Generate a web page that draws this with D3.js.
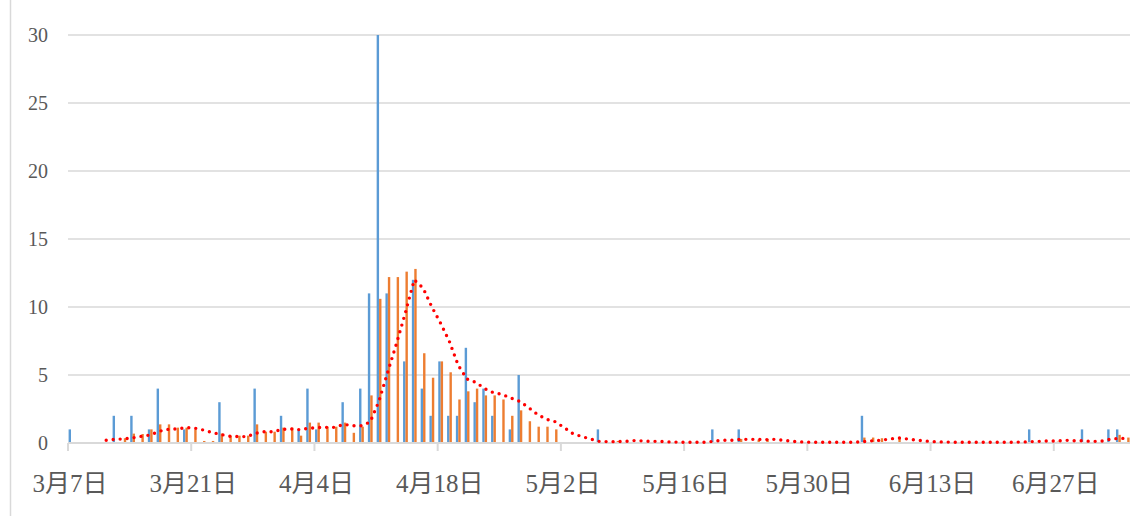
<!DOCTYPE html>
<html>
<head>
<meta charset="utf-8">
<script src="https://cdn.jsdelivr.net/npm/d3@7"></script>
<style>
  html, body { margin: 0; padding: 0; background: #ffffff; }
  svg { display: block; }
</style>
</head>
<body>
<svg id="chart" width="1141" height="516"></svg>
<script>
// Daily categories: 121 days starting 3月7日
const startDate = new Date(2022, 2, 7);
const dayCount = 121;
const categories = d3.range(dayCount).map(i => d3.timeDay.offset(startDate, i));

// Tick labels every 14 days
const tickLabels = ["3月7日", "3月21日", "4月4日", "4月18日", "5月2日", "5月16日", "5月30日", "6月13日", "6月27日"];
const tickDays = [0, 14, 28, 42, 56, 70, 84, 98, 112];
const yTicks = [0, 5, 10, 15, 20, 25, 30];

// Blue bars: daily count
const dailyCount = [
  1, 0, 0, 0, 0, 2, 0, 2, 0, 1,
  4, 0, 0, 1, 0, 0, 0, 3, 0, 0,
  0, 4, 0, 0, 2, 0, 1, 4, 1, 0,
  0, 3, 0, 4, 11, 30, 11, 0, 6, 12,
  4, 2, 6, 2, 2, 7, 3, 4, 2, 0,
  1, 5, 0, 0, 0, 0, 0, 0, 0, 0,
  1, 0, 0, 0, 0, 0, 0, 0, 0, 0,
  0, 0, 0, 1, 0, 0, 1, 0, 0, 0,
  0, 0, 0, 0, 0, 0, 0, 0, 0, 0,
  2, 0, 0, 0, 0, 0, 0, 0, 0, 0,
  0, 0, 0, 0, 0, 0, 0, 0, 0, 1,
  0, 0, 0, 0, 0, 1, 0, 0, 1, 1,
  0
];

// Orange bars: adjusted daily value
const adjustedCount = [
  0, 0, 0, 0, 0, 0, 0.35, 0.69, 0.66, 1.0,
  1.37, 1.37, 1.13, 1.13, 1.0, 0.15, 0.15, 0.7, 0.54, 0.54,
  0.54, 1.37, 0.83, 0.83, 1.13, 1.13, 0.54, 1.5, 1.5, 1.2,
  1.2, 1.5, 0.75, 1.2, 3.5, 10.6, 12.2, 12.2, 12.6, 12.8,
  6.6, 4.8, 6.0, 5.2, 3.2, 3.8, 4.0, 3.5, 3.5, 3.2,
  2.0, 2.4, 1.6, 1.2, 1.2, 1.0, 0, 0, 0, 0,
  0, 0, 0.15, 0, 0, 0, 0, 0, 0, 0,
  0, 0, 0, 0, 0, 0, 0.3, 0, 0.25, 0.3,
  0, 0, 0, 0, 0, 0, 0, 0, 0, 0,
  0.4, 0.4, 0.35, 0, 0.4, 0, 0, 0, 0, 0,
  0, 0, 0, 0, 0, 0, 0, 0, 0, 0,
  0, 0, 0.1, 0, 0, 0, 0, 0, 0, 0.6,
  0.4
];

// Red dotted line: smoothed trend (no value for the first four days)
const trend = [
  null, null, null, null, 0.2, 0.27, 0.3, 0.38, 0.49, 0.59,
  0.86, 1.0, 1.03, 1.13, 1.1, 0.96, 0.78, 0.63, 0.5, 0.47,
  0.47, 0.72, 0.83, 0.83, 1.0, 1.03, 0.98, 1.08, 1.13, 1.15,
  1.15, 1.37, 1.27, 1.27, 1.55, 3.1, 5.25, 7.35, 9.6, 12.0,
  11.4, 10.0, 8.8, 7.45, 5.7, 4.7, 4.46, 4.0, 3.7, 3.57,
  3.3, 3.05, 2.6, 2.1, 1.75, 1.57, 1.15, 0.7, 0.48, 0.3,
  0.12, 0.1, 0.1, 0.12, 0.18, 0.15, 0.12, 0.12, 0.08, 0.06,
  0.06, 0.06, 0.06, 0.12, 0.2, 0.2, 0.27, 0.27, 0.27, 0.25,
  0.27, 0.2, 0.12, 0.08, 0.06, 0.06, 0.06, 0.06, 0.06, 0.06,
  0.1, 0.16, 0.2, 0.29, 0.38, 0.3, 0.22, 0.15, 0.1, 0.08,
  0.06, 0.06, 0.06, 0.06, 0.06, 0.06, 0.06, 0.06, 0.07, 0.1,
  0.12, 0.15, 0.14, 0.2, 0.17, 0.16, 0.12, 0.12, 0.27, 0.34,
  0.34
];

const svg = d3.select("#chart");
const W = 1141, H = 516;

svg.append("rect").attr("width", W).attr("height", H).attr("fill", "#ffffff");

// Outer frame edge on the left
svg.append("line")
  .attr("x1", 10.5).attr("x2", 10.5).attr("y1", 0).attr("y2", H)
  .attr("stroke", "#d9d9d9").attr("stroke-width", 1.5);

const plotLeft = 68, plotRight = 1130;
const x = d3.scaleLinear().domain([0, dayCount]).range([plotLeft, 1133]);
const y = d3.scaleLinear().domain([0, 30]).range([443, 35]);

const labelFont = "'Liberation Serif', 'Noto Sans CJK SC', serif";

// Horizontal gridlines
svg.append("g").selectAll("line")
  .data(yTicks.filter(v => v > 0))
  .join("line")
  .attr("x1", plotLeft).attr("x2", plotRight)
  .attr("y1", d => y(d)).attr("y2", d => y(d))
  .attr("stroke", "#d9d9d9").attr("stroke-width", 1.6);

// Y axis labels
const yAxis = d3.axisLeft(y).tickValues(yTicks).tickSize(0).tickPadding(0).tickFormat(d3.format("d"));
const yg = svg.append("g").attr("transform", "translate(48,0)").call(yAxis);
yg.select(".domain").remove();
yg.selectAll("text")
  .attr("font-family", labelFont).attr("font-size", 20)
  .attr("fill", "#595959").attr("dy", "0.33em");

// Bars
const blueW = 2.4, orangeW = 2.4;
svg.append("g").selectAll("rect")
  .data(dailyCount.map((v, i) => ({ i, v })).filter(d => d.v > 0))
  .join("rect")
  .attr("x", d => x(d.i) + 0.6)
  .attr("width", blueW)
  .attr("y", d => y(d.v))
  .attr("height", d => y(0) - y(d.v))
  .attr("fill", "#5b9bd5");

svg.append("g").selectAll("rect")
  .data(adjustedCount.map((v, i) => ({ i, v })).filter(d => d.v > 0))
  .join("rect")
  .attr("x", d => x(d.i) + 0.6 + blueW)
  .attr("width", orangeW)
  .attr("y", d => y(d.v))
  .attr("height", d => y(0) - y(d.v))
  .attr("fill", "#ed7d31");

// X axis baseline and ticks
svg.append("line")
  .attr("x1", plotLeft).attr("x2", plotRight)
  .attr("y1", y(0)).attr("y2", y(0))
  .attr("stroke", "#d9d9d9").attr("stroke-width", 2);

const xTicks = svg.append("g");
xTicks.selectAll("line")
  .data(tickDays)
  .join("line")
  .attr("x1", d => x(d)).attr("x2", d => x(d))
  .attr("y1", y(0)).attr("y2", y(0) + 8)
  .attr("stroke", "#d9d9d9").attr("stroke-width", 2);

xTicks.selectAll("text")
  .data(tickDays)
  .join("text")
  .attr("x", d => x(d) + 2)
  .attr("y", 492)
  .attr("text-anchor", "middle")
  .attr("font-family", labelFont)
  .attr("font-size", 25)
  .attr("fill", "#595959")
  .text((d, k) => tickLabels[k]);

// Trend line (round dots)
const line = d3.line()
  .defined(d => d.v !== null)
  .x(d => x(d.i) + 0.6 + blueW)
  .y(d => y(d.v));

svg.append("path")
  .datum(trend.map((v, i) => ({ i, v })))
  .attr("d", line)
  .attr("fill", "none")
  .attr("stroke", "#ff0000")
  .attr("stroke-width", 3.4)
  .attr("stroke-linecap", "round")
  .attr("stroke-dasharray", "0 7");
</script>
</body>
</html>
